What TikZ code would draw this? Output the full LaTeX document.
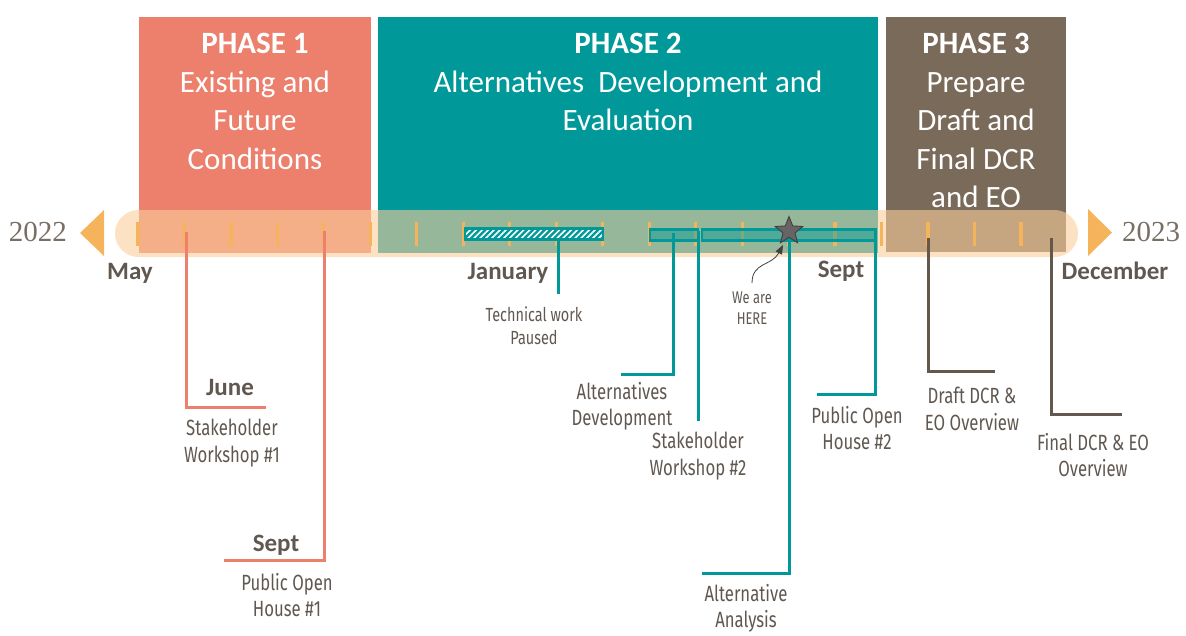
\documentclass[tikz,border=0pt]{standalone}
\usepackage{fontspec}
\setmainfont{Carlito}
\newfontfamily\cond[FakeStretch=0.76]{Fira Sans}
\newfontfamily\yearfont{Liberation Serif}
\usetikzlibrary{shapes.geometric,patterns.meta,arrows.meta}
\definecolor{phone}{RGB}{236,128,109}
\definecolor{phtwo}{RGB}{0,152,152}
\definecolor{phthree}{RGB}{122,106,90}
\definecolor{barc}{RGB}{250,205,155}
\definecolor{tickc}{RGB}{245,180,92}
\definecolor{txt}{RGB}{96,88,80}
\definecolor{yeartxt}{RGB}{120,110,100}
\definecolor{brownl}{RGB}{100,88,76}
\definecolor{starc}{RGB}{105,100,100}
\begin{document}
\begin{tikzpicture}[x=1pt,y=-1pt,
  phasebox/.style={anchor=north west, inner sep=0pt, outer sep=0pt},
  phtitle/.style={text=white, align=center, inner sep=0pt, anchor=north,
    font=\fontsize{31}{38.5}\selectfont},
  month/.style={text=txt, inner sep=0pt, font=\fontsize{25}{28}\selectfont\bfseries},
  lbl/.style={text=txt, align=center, inner sep=0pt, anchor=north,
    font=\cond\fontsize{22}{26.5}\selectfont},
  lblsmall/.style={text=txt, align=center, inner sep=0pt, anchor=north,
    font=\cond\fontsize{19}{23}\selectfont},
  lbltiny/.style={text=txt, align=center, inner sep=0pt, anchor=north,
    font=\cond\fontsize{17}{21}\selectfont},
  year/.style={text=yeartxt, inner sep=0pt, font=\yearfont\fontsize{29}{32}\selectfont},
  conn/.style={line width=3pt},
  tickmark/.style={line width=3.2pt, draw=tickc},
  ministrip/.style={draw=phtwo, line width=2.2pt, inner sep=0pt, minimum height=11pt},
  arrowtri/.style={fill=tickc},
]
\useasboundingbox (0,0) rectangle (1186,635);
% phase boxes
\node[phasebox, fill=phone, minimum width=232pt, minimum height=236pt] (p1) at (139,17) {};
\node[phasebox, fill=phtwo, minimum width=500pt, minimum height=236pt] (p2) at (378,17) {};
\node[phasebox, fill=phthree, minimum width=180pt, minimum height=235pt] (p3) at (886,17) {};
\node[phtitle] (t1) at (255,33) {\textbf{PHASE 1}\\Existing and\\Future\\Conditions};
\node[phtitle] (t2) at (628,33) {\textbf{PHASE 2}\\Alternatives\ \ Development and\\Evaluation};
\node[phtitle] (t3) at (976,33) {\textbf{PHASE 3}\\Prepare\\Draft and\\Final DCR\\and EO};
% timeline bar
\fill[barc, opacity=0.6, rounded corners=23.5pt] (115,210) rectangle (1078,257);
\fill[arrowtri] (104,210) -- (104,256) -- (80,233) -- cycle;
\fill[arrowtri] (1088,209) -- (1088,256) -- (1112,232.5) -- cycle;
\node[year] (y22) at (38,232) {2022};
\node[year] (y23) at (1151,232) {2023};
% ticks
\foreach \i in {0,...,19}{
  \draw[tickmark] ({138+46.47*\i},222) -- ({138+46.47*\i},246);
}
% strips
\node[ministrip, minimum width=138pt, preaction={fill=phtwo},
  pattern={Lines[angle=45,distance=4.2pt,line width=1.6pt]}, pattern color=white] (hatch) at (534,234) {};
\node[ministrip, minimum width=48pt, fill=phtwo, fill opacity=0.45] (s2) at (674,235) {};
\node[ministrip, minimum width=174pt, fill=phtwo, fill opacity=0.45] (s3) at (789,235) {};
% month labels
\node[month] (may) at (130,273) {May};
\node[month] (jan) at (508,273) {January};
\node[month] (sep2) at (841,271) {Sept};
\node[month] (dec) at (1115,271) {December};
\node[month] (jun) at (230,387) {June};
\node[month] (sep1) at (276,545) {Sept};
% phase 1 connectors
\coordinate (a1) at (186,232); \coordinate (a2) at (186,407); \coordinate (a3) at (266,407);
\draw[conn, draw=phone] (a1) -- (a2) -- (a3);
\coordinate (b1) at (324,231); \coordinate (b2) at (324,560); \coordinate (b3) at (224,560);
\draw[conn, draw=phone] (b1) -- (b2) -- (b3);
\node[lbl] (sw1) at (232,419) {Stakeholder\\Workshop \#1};
\node[lbl] (poh1) at (287,573) {Public Open\\House \#1};
% phase 2 connectors
\coordinate (c2) at (558,294);
\draw[conn, draw=phtwo] (hatch.south -| c2) -- (c2);
\node[lblsmall] (tw) at (534,306) {Technical work\\Paused};
\coordinate (d1) at (673,233); \coordinate (d2) at (673,374); \coordinate (d3) at (621,374);
\draw[conn, draw=phtwo] (d1) -- (d2) -- (d3);
\node[lbl] (ad) at (622,382) {Alternatives\\Development};
\coordinate (e1) at (698,231); \coordinate (e2) at (698,421);
\draw[conn, draw=phtwo] (e1) -- (e2);
\node[lbl] (sw2) at (698,432) {Stakeholder\\Workshop \#2};
\coordinate (f2) at (789,573); \coordinate (f3) at (702,573);
\coordinate (f1) at (789,236);
\draw[conn, draw=phtwo] (f1) -- (f2) -- (f3);
\node[lbl] (aa) at (746,584) {Alternative\\Analysis};
\coordinate (g1) at (875,230); \coordinate (g2) at (875,394); \coordinate (g3) at (817,394);
\draw[conn, draw=phtwo] (g1) -- (g2) -- (g3);
\node[lbl] (poh2) at (857,406) {Public Open\\House \#2};
% star and we are here
\node[star, star points=5, star point ratio=2.3, minimum size=29pt, inner sep=0pt,
  fill=starc, draw=black!75, line width=0.9pt] (star) at (789,231) {};
\node[lbltiny] (here) at (752,292) {We are\\HERE};
\coordinate (hereTail) at (752,283);
\coordinate (hereTip) at (783,245);
\draw[line width=0.8pt, draw=black!75, -{Triangle[length=9pt,width=7pt]}]
  (hereTail) .. controls (752,262) and (772,266) .. (hereTip);
% phase 3 connectors
\coordinate (h1) at (928,238); \coordinate (h2) at (928,371); \coordinate (h3) at (995,371);
\draw[conn, draw=brownl] (h1) -- (h2) -- (h3);
\node[lbl] (dd) at (972,387) {Draft DCR \&\\EO Overview};
\coordinate (k1) at (1051,238); \coordinate (k2) at (1051,414); \coordinate (k3) at (1122,414);
\draw[conn, draw=brownl] (k1) -- (k2) -- (k3);
\node[lbl] (fd) at (1093,433) {Final DCR \& EO\\Overview};
\end{tikzpicture}
\end{document}
